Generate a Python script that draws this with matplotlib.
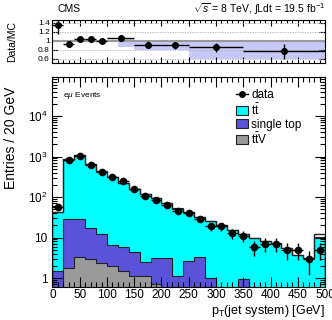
import numpy as np
import matplotlib
matplotlib.use('Agg')
import matplotlib.pyplot as plt
from matplotlib.ticker import FixedLocator, MultipleLocator, NullFormatter
from matplotlib.patches import Patch
from matplotlib.lines import Line2D

plt.rcParams['font.family'] = ['Liberation Sans', 'DejaVu Sans']
plt.rcParams['mathtext.fontset'] = 'custom'
plt.rcParams['mathtext.rm'] = 'Liberation Sans'
plt.rcParams['mathtext.it'] = 'Liberation Sans:italic'
plt.rcParams['mathtext.bf'] = 'Liberation Sans:bold'

# 20 GeV bins, 0-500
edges = np.arange(0, 520, 20)
data = [58, 820, 1050, 620, 420, 305, 250, 155, 106, 84, 65, 46, 40, 29, 19,
        19, 13, 11, 5.9, 7.0, 6.9, 5.0, 5.0, 2.9, 5.0]
data_err = [7.6, 29, 32, 25, 20, 17, 16, 12, 10, 9, 8, 6.8, 6.3, 5.4, 4.4,
            4.4, 3.6, 3.3, 2.4, 2.6, 2.6, 2.2, 2.2, 1.7, 2.2]
ttv = [0.3, 1.8, 3.4, 3.0, 2.4, 2.0, 1.5, 1.1, 1.1, 0.7, 0.45, 0.4, 0.35, 0.3, 0.25,
       0.2, 0.2, 0.15, 0.15, 0.1, 0.1, 0.1, 0.1, 0.05, 0.1]
single_top = [1.2, 27.2, 24.6, 14, 9.6, 4.5, 4.4, 3.4, 1.4, 2.4, 2.65, 0.75, 2.25, 3.1, 0.75,
              0.3, 0.3, 0.8, 0.25, 0.3, 0.25, 0.3, 0.2, 0.25, 0.3]
ttbar = [41.5, 821, 1052, 633, 433, 303.5, 219, 150.5, 115.5, 92, 67, 51, 40.5, 29.5, 24,
         19.5, 14.5, 11, 9.4, 7.6, 6.85, 5.2, 3.5, 2.9, 10.0]
mc_total = [43, 850, 1080, 650, 445, 310, 225, 155, 118, 95, 70, 52, 43, 33, 25,
            20, 15, 12, 9.8, 8.0, 7.2, 5.6, 3.8, 3.2, 12]

# ratio panel (variable bins)
r_edges = [0, 20, 40, 60, 80, 100, 150, 200, 250, 350, 500]
ratio = [1.35, 0.935, 1.04, 1.035, 0.99, 1.05, 0.91, 0.895, 0.855, 0.76]
ratio_err = [0.2, 0.015, 0.01, 0.01, 0.012, 0.012, 0.08, 0.085, 0.1, 0.17]
band_x0 = [120, 150, 250]
band_x1 = [150, 250, 500]
band_lo = [0.85, 0.79, 0.58]
band_hi = [1.03, 1.01, 1.01]

c_tt = '#00ffff'
c_st = '#5a52d8'
c_ttv = '#9a9a9a'

fig = plt.figure(figsize=(3.32, 3.2), dpi=100)
ax_r = fig.add_axes([0.158, 0.8016, 0.821, 0.136])
ax = fig.add_axes([0.158, 0.104, 0.821, 0.656])

# ---- main panel
ttv = np.array(ttv); single_top = np.array(single_top); ttbar = np.array(ttbar)
base = np.full(len(ttv), 1e-3)
s1 = ttv
s2 = ttv + single_top
s3 = s2 + ttbar
ax.stairs(s3, edges, baseline=base, fill=True, facecolor=c_tt, edgecolor='#222222', lw=0.8)
ax.stairs(s2, edges, baseline=base, fill=True, facecolor=c_st, edgecolor='#222222', lw=0.8)
ax.stairs(s1, edges, baseline=base, fill=True, facecolor=c_ttv, edgecolor='#222222', lw=0.8)
ax.stairs(mc_total, edges, color='#222222', lw=1.0)

centers = (edges[:-1] + edges[1:]) / 2
ax.errorbar(centers, data, yerr=data_err, xerr=10, fmt='o', color='black',
            ms=4.5, lw=1, capsize=0)

ax.set_yscale('log')
ax.set_xlim(0, 500)
ax.set_ylim(0.61, 9.3e4)
ax.yaxis.set_major_locator(FixedLocator([1, 10, 100, 1000, 10000]))
ax.set_yticklabels(['1', '10', r'$10^2$', r'$10^3$', r'$10^4$'])
ax.xaxis.set_major_locator(MultipleLocator(50))
ax.xaxis.set_minor_locator(MultipleLocator(10))
ax.tick_params(which='both', direction='in', top=True, right=True, labelsize=8.5)
ax.tick_params(which='major', length=7, width=0.8)
ax.tick_params(which='minor', length=3.5, width=0.8)
ax.tick_params(axis='x', pad=2)
ax.set_ylabel('Entries / 20 GeV', fontsize=10, loc='top')
ax.yaxis.set_label_coords(-0.125, 0.955)
ax.set_xlabel(r'p$_{\rm T}$(jet system) [GeV]', fontsize=9, loc='right', labelpad=1)

ax.text(0.04, 0.912, r'e$\mu$ Events', transform=ax.transAxes, fontsize=6, va='center')

handles = [Line2D([0], [0], color='black', marker='o', ms=4, lw=1),
           Patch(facecolor=c_tt, edgecolor='#222222', lw=0.8),
           Patch(facecolor=c_st, edgecolor='#222222', lw=0.8),
           Patch(facecolor=c_ttv, edgecolor='#222222', lw=0.8)]
labels = ['data', r'$\mathrm{t\bar{t}}$', 'single top', r'$\mathrm{t\bar{t}V}$']
ax.legend(handles, labels, loc='upper left', bbox_to_anchor=(0.675, 0.94),
          frameon=False, fontsize=8.5, handlelength=1.0, handleheight=0.8,
          handletextpad=0.25, labelspacing=0.08, borderpad=0, borderaxespad=0)

# ---- ratio panel
for x0, x1, lo, hi in zip(band_x0, band_x1, band_lo, band_hi):
    ax_r.fill_between([x0, x1], lo, hi, color='#c8c8f8', lw=0)
ax_r.axhline(1.0, color='#999999', lw=1.5)
for g in [0.6, 0.8, 1.2, 1.4]:
    ax_r.axhline(g, color='#aaaaaa', lw=0.6, ls=(0, (1.5, 1.5)))
r_edges = np.array(r_edges)
rc = (r_edges[:-1] + r_edges[1:]) / 2
rw = (r_edges[1:] - r_edges[:-1]) / 2
ax_r.errorbar(rc, ratio, yerr=ratio_err, xerr=rw, fmt='o', color='black',
              ms=4, lw=1, capsize=0)
ax_r.set_xlim(0, 500)
ax_r.set_ylim(0.49, 1.46)
ax_r.yaxis.set_major_locator(FixedLocator([0.6, 0.8, 1.0, 1.2, 1.4]))
ax_r.set_yticklabels(['0.6', '0.8', '1', '1.2', '1.4'])
ax_r.xaxis.set_major_locator(MultipleLocator(50))
ax_r.xaxis.set_minor_locator(MultipleLocator(10))
ax_r.xaxis.set_major_formatter(NullFormatter())
ax_r.tick_params(which='both', direction='in', top=True, right=True, labelsize=6)
ax_r.tick_params(which='major', length=4, width=0.8, pad=2)
ax_r.tick_params(which='minor', length=2, width=0.8)
ax_r.set_ylabel('Data/MC', fontsize=7.5)
ax_r.yaxis.set_label_coords(-0.13, 0.5)

fig.text(0.172, 0.972, 'CMS', fontsize=7.5, va='center')
fig.text(0.978, 0.972, r'$\sqrt{s}$ = 8 TeV, $\int$Ldt = 19.5 fb$^{-1}$',
         fontsize=7.5, va='center', ha='right')

fig.savefig('out.png', dpi=100)
